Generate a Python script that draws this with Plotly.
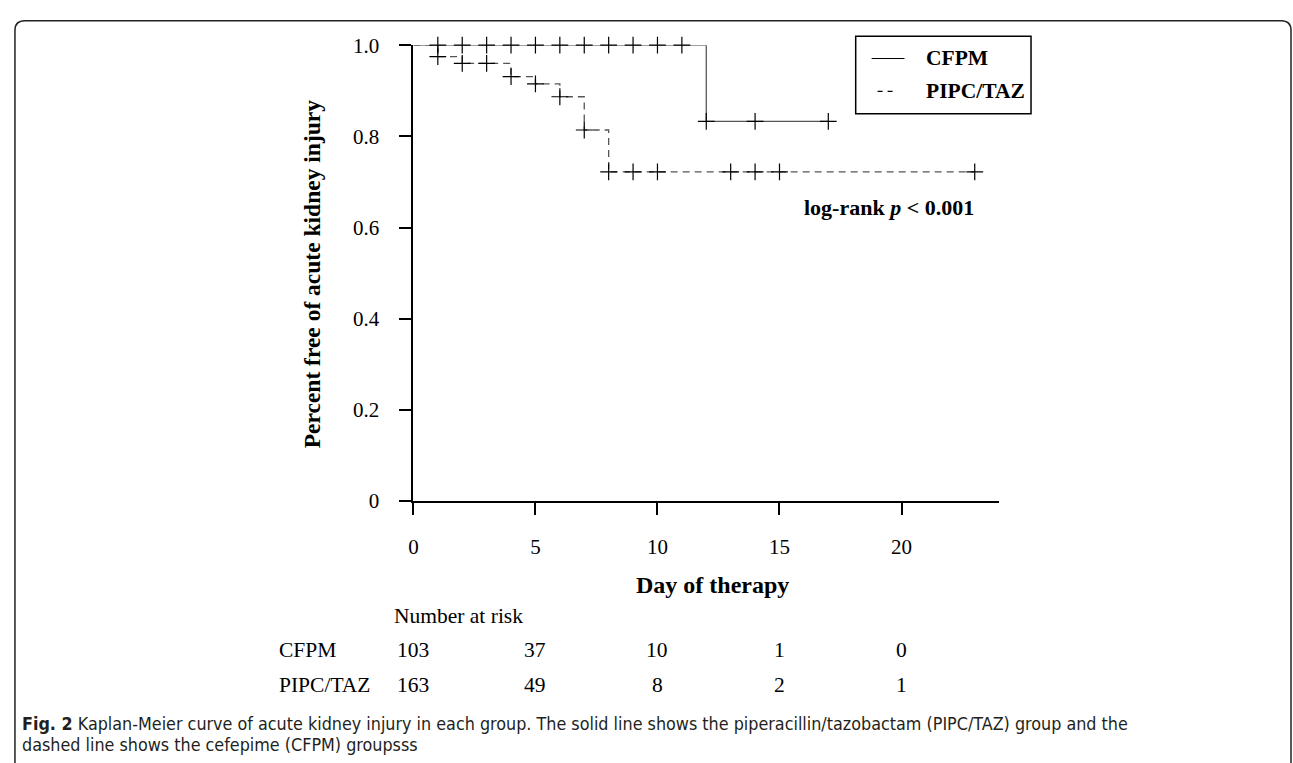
import plotly.graph_objects as go

W, H = 1293, 763

# ---- data ----
cfpm_times = [0, 12, 17]
cfpm_surv = [1.0, 0.833, 0.833]
cfpm_censor_days = [1, 2, 3, 4, 5, 6, 7, 8, 9, 10, 11, 12, 14, 17]

pipc_times = [0, 1, 2, 4, 5, 6, 7, 8, 23]
pipc_surv = [1.0, 0.975, 0.960, 0.931, 0.915, 0.887, 0.814, 0.722, 0.722]
pipc_censor_days = [1, 2, 3, 4, 5, 6, 7, 8, 9, 10, 13, 14, 15, 23]

risk_days = [0, 5, 10, 15, 20]
risk_cfpm = [103, 37, 10, 1, 0]
risk_pipc = [163, 49, 8, 2, 1]

x_ticks = [0, 5, 10, 15, 20]
y_ticks = [0, 0.2, 0.4, 0.6, 0.8, 1.0]
y_ticktext = ["0", "0.2", "0.4", "0.6", "0.8", "1.0"]


def step_value(times, surv, t):
    v = surv[0]
    for ti, si in zip(times, surv):
        if ti <= t:
            v = si
    return v


def px(x):
    return x / W


def py(y):
    return 1 - y / H


SERIF = "Liberation Serif"
LINE_COL = "#555555"
TBL = 21.5

fig = go.Figure()

fig.add_trace(go.Scatter(x=cfpm_times, y=cfpm_surv, mode="lines", line_shape="hv",
                         line=dict(color=LINE_COL, width=1.3), showlegend=False, name="CFPM"))
fig.add_trace(go.Scatter(x=pipc_times, y=pipc_surv, mode="lines", line_shape="hv",
                         line=dict(color=LINE_COL, width=1.3, dash="7px,5px"), showlegend=False,
                         name="PIPC/TAZ"))
fig.add_trace(go.Scatter(x=cfpm_censor_days,
                         y=[step_value(cfpm_times, cfpm_surv, d) for d in cfpm_censor_days],
                         mode="markers", showlegend=False, cliponaxis=False,
                         marker=dict(symbol="cross-thin", size=12, line=dict(color="black", width=1.2))))
fig.add_trace(go.Scatter(x=pipc_censor_days,
                         y=[step_value(pipc_times, pipc_surv, d) for d in pipc_censor_days],
                         mode="markers", showlegend=False, cliponaxis=False,
                         marker=dict(symbol="cross-thin", size=12, line=dict(color="black", width=1.2))))

x0, x1 = 410, 998
y0, y1 = 505, 34.3

fig.update_layout(
    width=W, height=H, margin=dict(l=0, r=0, t=0, b=0),
    plot_bgcolor="white", paper_bgcolor="white",
    xaxis=dict(domain=[px(x0), px(x1)], range=[0, 24], tickvals=x_ticks,
               showline=True, linewidth=2, linecolor="black", ticks="outside", ticklen=12,
               tickwidth=2, tickcolor="black", showgrid=False, zeroline=False,
               tickfont=dict(family=SERIF, size=21, color="black"), ticklabelstandoff=14),
    yaxis=dict(domain=[py(y0), py(y1)], range=[0, 1], tickvals=y_ticks, ticktext=y_ticktext,
               showline=True, linewidth=2, linecolor="black", ticks="outside", ticklen=12,
               tickwidth=2, tickcolor="black", showgrid=False, zeroline=False,
               tickfont=dict(family=SERIF, size=21, color="black"), ticklabelstandoff=16),
)

shapes = []
# outer rounded frame
r = 10
L, T, R, B = 10, 9, 1291, 800
path = (f"M {px(L)},{py(B)} L {px(L)},{py(T + r)} Q {px(L)},{py(T)} {px(L + r)},{py(T)} "
        f"L {px(R - r)},{py(T)} Q {px(R)},{py(T)} {px(R)},{py(T + r)} L {px(R)},{py(B)}")
shapes.append(dict(type="path", xref="paper", yref="paper", path=path,
                   line=dict(color="#222222", width=1.5)))
# legend box
shapes.append(dict(type="rect", xref="paper", yref="paper", x0=px(854), x1=px(1030),
                   y0=py(105), y1=py(25), line=dict(color="black", width=1.5)))
shapes.append(dict(type="line", xref="paper", yref="paper", x0=px(870), x1=px(903),
                   y0=py(48), y1=py(48), line=dict(color="black", width=1.2)))
shapes.append(dict(type="line", xref="paper", yref="paper", x0=px(876), x1=px(891),
                   y0=py(82), y1=py(82), line=dict(color="black", width=1.2, dash="5px,5px")))
fig.update_layout(shapes=shapes)

ann = []
ann.append(dict(text="<b>CFPM</b>", x=px(923), y=py(48), xref="paper", yref="paper",
                xanchor="left", yanchor="middle", showarrow=False,
                font=dict(family=SERIF, size=21.5, color="black")))
ann.append(dict(text="<b>PIPC/TAZ</b>", x=px(923), y=py(82), xref="paper", yref="paper",
                xanchor="left", yanchor="middle", showarrow=False,
                font=dict(family=SERIF, size=21.5, color="black")))
ann.append(dict(text="<b>log-rank <i>p</i> < 0.001</b>", x=px(800), y=py(202), xref="paper",
                yref="paper", xanchor="left", yanchor="middle", showarrow=False,
                font=dict(family=SERIF, size=22, color="black")))
ann.append(dict(text="<b>Percent free of acute kidney injury</b>", x=px(308), y=py(270),
                xref="paper", yref="paper", xanchor="center", yanchor="middle", textangle=-90,
                showarrow=False, font=dict(family=SERIF, size=23.5, color="black")))
ann.append(dict(text="<b>Day of therapy</b>", x=px(710), y=py(592), xref="paper", yref="paper",
                xanchor="center", yanchor="middle", showarrow=False,
                font=dict(family=SERIF, size=24, color="black")))
ann.append(dict(text="Number at risk", x=px(389), y=py(624), xref="paper", yref="paper",
                xanchor="left", yanchor="middle", showarrow=False,
                font=dict(family=SERIF, size=TBL, color="black")))
ann.append(dict(text="CFPM", x=px(273), y=py(659), xref="paper", yref="paper",
                xanchor="left", yanchor="middle", showarrow=False,
                font=dict(family=SERIF, size=TBL, color="black")))
ann.append(dict(text="PIPC/TAZ", x=px(273), y=py(695), xref="paper", yref="paper",
                xanchor="left", yanchor="middle", showarrow=False,
                font=dict(family=SERIF, size=TBL, color="black")))
for d, a, b in zip(risk_days, risk_cfpm, risk_pipc):
    ann.append(dict(text=str(a), x=d, y=py(659), xref="x", yref="paper", xanchor="center",
                    yanchor="middle", showarrow=False, font=dict(family=SERIF, size=TBL, color="black")))
    ann.append(dict(text=str(b), x=d, y=py(695), xref="x", yref="paper", xanchor="center",
                    yanchor="middle", showarrow=False, font=dict(family=SERIF, size=TBL, color="black")))

CAP = "DejaVu Sans Condensed, Roboto, sans-serif"
ann.append(dict(text="<b>Fig. 2</b> Kaplan-Meier curve of acute kidney injury in each group. The solid line shows the piperacillin/tazobactam (PIPC/TAZ) group and the",
                x=px(15), y=py(735), xref="paper", yref="paper", xanchor="left", yanchor="middle",
                showarrow=False, font=dict(family=CAP, size=17.8, color="#231f20")))
ann.append(dict(text="dashed line shows the cefepime (CFPM) groupsss",
                x=px(15), y=py(756), xref="paper", yref="paper", xanchor="left", yanchor="middle",
                showarrow=False, font=dict(family=CAP, size=17.8, color="#231f20")))
fig.update_layout(annotations=ann)

fig.write_html("out.html", config={"displayModeBar": False},
               post_script="document.body.style.margin='0px';document.body.style.overflow='hidden';")
